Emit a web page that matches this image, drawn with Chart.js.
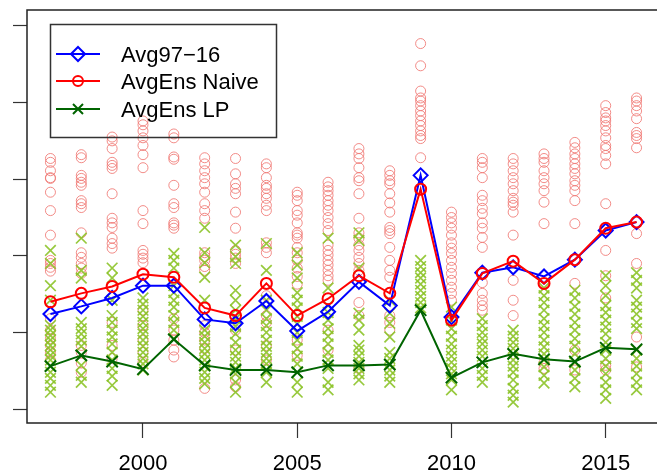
<!DOCTYPE html>
<html>
<head>
<meta charset="utf-8">
<script src="https://cdn.jsdelivr.net/npm/chart.js@4.4.1/dist/chart.umd.min.js"></script>
<style>
  html, body { margin: 0; padding: 0; background: #fff; overflow: hidden; }
  #wrap { width: 670px; height: 473px; }
</style>
</head>
<body>
<div id="wrap"><canvas id="c" width="670" height="473"></canvas></div>
<script>
const years = [1997,1998,1999,2000,2001,2002,2003,2004,2005,2006,2007,2008,2009,2010,2011,2012,2013,2014,2015,2016];
const xTicks = [2000, 2005, 2010, 2015];
const yTicks = [0, 1, 2, 3, 4, 5];

const avg9716     = [1.24,1.34,1.45,1.61,1.61,1.17,1.12,1.41,1.02,1.27,1.66,1.35,3.05,1.20,1.78,1.85,1.73,1.95,2.33,2.44];
const avgEnsNaive = [1.40,1.51,1.60,1.76,1.72,1.32,1.22,1.64,1.22,1.44,1.74,1.51,2.87,1.16,1.77,1.93,1.64,1.95,2.36,2.44];
const avgEnsLP    = [0.56,0.70,0.62,0.52,0.91,0.57,0.51,0.51,0.48,0.57,0.57,0.58,1.29,0.41,0.61,0.72,0.65,0.62,0.80,0.78];

// membres individuels, un tableau par année
const naiveMembers = [
  [3.27,3.22,3.11,3.02,3.01,2.83,2.59,2.27,1.94,1.90,1.85,1.80,1.18,1.03,0.92,0.83,0.74,0.64],
  [3.32,3.28,3.05,3.01,2.96,2.92,2.72,2.68,2.63,2.30,2.04,1.98,1.90,1.84,1.77,0.83,0.74,0.60,0.48],
  [3.55,3.50,3.40,3.22,3.18,3.14,2.81,2.49,2.43,2.37,2.23,2.16,2.10,1.13,0.83,0.66],
  [3.76,3.71,3.63,3.54,3.44,3.32,3.15,2.59,2.42,2.07,2.02,1.97,1.91,1.29,1.09,0.90,0.74,0.61],
  [3.59,3.54,3.29,3.26,2.92,2.68,2.63,2.43,2.40,2.36,1.18,1.03,0.90,0.77,0.68],
  [3.28,3.20,3.11,3.02,2.94,2.83,2.68,2.59,2.49,2.04,1.99,1.94,1.86,1.81,1.09,1.00,0.90,0.79,0.27],
  [3.27,3.07,2.94,2.88,2.81,2.57,2.36,2.07,2.02,1.97,1.90,1.03,0.77,0.38,0.29],
  [3.20,3.15,3.02,2.92,2.88,2.81,2.75,2.66,2.59,2.17,2.11,2.04,1.48,1.22,1.13,0.83,0.64],
  [2.83,2.79,2.72,2.59,2.53,2.43,2.30,2.27,2.23,2.11,2.04,1.94,1.84,1.73,1.63,0.90,0.70],
  [2.96,2.90,2.85,2.79,2.72,2.66,2.59,2.50,2.42,2.33,2.14,2.07,2.01,1.94,1.88,1.81,1.74,1.68,1.03,0.77],
  [3.40,3.33,3.27,3.15,3.02,2.98,2.81,2.49,2.30,2.23,2.14,2.07,1.98,1.90,1.81,1.39,1.22,0.53],
  [3.11,3.05,2.98,2.94,2.81,2.69,2.57,2.37,2.33,2.29,2.11,1.94,1.81,1.72,1.22,1.13,1.03],
  [4.77,4.48,4.15,4.06,4.02,3.96,3.89,3.83,3.76,3.70,3.63,3.57,3.53,3.28],
  [2.57,2.50,2.43,2.36,2.27,2.17,2.10,2.03,1.94,1.85,1.77,1.68,1.59,1.51,1.42],
  [3.27,3.22,3.15,3.02,2.79,2.72,2.62,2.55,2.43,2.36,2.24,2.11,1.65,1.51,1.42,1.35,1.29],
  [3.27,3.20,3.11,3.02,2.94,2.85,2.75,2.70,2.66,2.57,2.27,1.68,1.42,1.22],
  [3.33,3.27,3.22,3.11,3.02,2.94,2.85,2.70,2.42,0.60,0.53],
  [3.48,3.41,3.33,3.27,3.20,3.14,3.07,2.98,2.92,2.85,2.72,2.42,1.64,0.77,0.51],
  [3.96,3.87,3.80,3.76,3.70,3.63,3.54,3.44,3.40,3.31,3.20,2.68,2.07,1.74,1.45,0.57,0.51],
  [4.06,4.02,3.96,3.89,3.79,3.61,3.57,3.53,3.41,2.29,1.90,0.94,0.55]
];
const lpMembers = [
  [2.07,1.90,1.61,1.42,1.09,1.03,0.96,0.90,0.83,0.77,0.70,0.64,0.56,0.48,0.40,0.31,0.22],
  [2.23,1.81,1.71,1.13,1.05,0.98,0.90,0.82,0.70,0.57,0.44,0.35],
  [1.84,1.71,1.42,1.22,1.13,1.03,0.94,0.85,0.74,0.64,0.53,0.43,0.31],
  [1.45,1.37,1.29,1.21,1.13,1.05,0.98,0.90,0.82,0.74,0.66,0.59,0.51],
  [2.03,1.94,1.84,1.61,1.52,1.42,1.33,1.22,1.13,1.03,0.92],
  [2.37,2.04,1.91,1.72,1.42,1.03,0.95,0.87,0.79,0.72,0.64,0.56,0.48,0.40,0.33],
  [2.14,1.99,1.90,1.55,1.42,1.29,1.18,1.08,0.98,0.87,0.77,0.69,0.61,0.53,0.46,0.35,0.22],
  [2.16,1.81,1.42,1.29,1.18,1.09,1.00,0.90,0.82,0.74,0.66,0.59,0.48,0.35],
  [2.04,1.88,1.71,1.52,1.42,1.32,1.21,1.11,1.00,0.90,0.79,0.69,0.59,0.48,0.35,0.22],
  [2.23,1.58,1.35,1.26,1.16,1.05,0.95,0.85,0.74,0.64,0.53,0.35,0.25],
  [2.30,2.20,1.84,1.25,1.16,1.03,0.83,0.77,0.69,0.61,0.53,0.46,0.38],
  [1.42,1.25,1.12,0.94,0.74,0.66,0.59,0.51,0.43,0.35],
  [1.94,1.86,1.78,1.71,1.63,1.55,1.47,1.39,1.32],
  [1.33,1.16,1.05,0.95,0.85,0.77,0.69,0.61,0.53,0.46,0.38,0.25],
  [1.18,1.09,1.00,0.92,0.85,0.77,0.69,0.61,0.53,0.44,0.35],
  [1.03,0.95,0.87,0.79,0.72,0.64,0.56,0.48,0.38,0.27,0.18,0.09],
  [1.58,1.48,1.39,1.29,1.18,1.09,1.00,0.90,0.81,0.72,0.64,0.55,0.44,0.34],
  [1.55,1.45,1.34,1.24,1.13,1.03,0.92,0.82,0.72,0.61,0.51,0.40,0.29],
  [1.74,1.61,1.48,1.35,1.26,1.16,1.07,0.98,0.87,0.77,0.66,0.56,0.46,0.35,0.25,0.14],
  [1.78,1.68,1.58,1.42,1.33,1.24,1.13,1.05,0.77,0.66,0.56,0.46,0.35,0.25]
];

const FONT = "'Liberation Sans', Arial, sans-serif";
const BLUE = "#0000ff", RED = "#ff0000", DKGREEN = "#006400";
const CLOUD_RED = "rgba(240,120,115,0.85)";
const CLOUD_GREEN = "rgba(140,195,40,0.9)";

const toPts = arr => years.map((yr, i) => ({ x: yr, y: arr[i] }));
const cloud = members => {
  const pts = [];
  years.forEach((yr, i) => members[i].forEach(v => pts.push({ x: yr, y: v })));
  return pts;
};

// légende encadrée + cadre du graphe, façon R (le bord droit sort de l'image)
const boxPlugin = {
  id: "rbox",
  afterDraw(chart) {
    const { ctx, chartArea: a } = chart;
    ctx.save();
    ctx.strokeStyle = "#222";
    ctx.lineWidth = 1.5;
    ctx.beginPath();
    ctx.moveTo(a.right + 5, a.top); ctx.lineTo(a.left, a.top);
    ctx.lineTo(a.left, a.bottom); ctx.lineTo(a.right + 5, a.bottom);
    ctx.stroke();

    // légende
    ctx.strokeStyle = "#333";
    ctx.strokeRect(50.5, 24.5, 226, 113);
    const rows = [
      { label: "Avg97\u221216", color: BLUE, y: 54, mark: "diamond" },
      { label: "AvgEns Naive", color: RED, y: 81, mark: "circle" },
      { label: "AvgEns LP", color: DKGREEN, y: 109, mark: "x" }
    ];
    rows.forEach(r => {
      ctx.strokeStyle = r.color;
      ctx.lineWidth = 2;
      ctx.beginPath();
      ctx.moveTo(56, r.y); ctx.lineTo(100, r.y);
      ctx.stroke();
      ctx.beginPath();
      if (r.mark === "diamond") {
        ctx.moveTo(78 - 7, r.y); ctx.lineTo(78, r.y - 7); ctx.lineTo(78 + 7, r.y); ctx.lineTo(78, r.y + 7); ctx.closePath();
      } else if (r.mark === "circle") {
        ctx.arc(78, r.y, 5, 0, Math.PI * 2);
      } else {
        ctx.moveTo(73, r.y - 5); ctx.lineTo(83, r.y + 5);
        ctx.moveTo(83, r.y - 5); ctx.lineTo(73, r.y + 5);
      }
      ctx.stroke();
      ctx.fillStyle = "#000";
      ctx.font = "22px " + FONT;
      ctx.textBaseline = "alphabetic";
      ctx.textAlign = "left";
      ctx.fillText(r.label, 121, r.y + 8);
    });
    ctx.restore();
  }
};

new Chart(document.getElementById("c"), {
  type: "scatter",
  data: {
    datasets: [
      {
        label: "AvgEns LP", data: toPts(avgEnsLP), showLine: true, order: 1,
        borderColor: DKGREEN, borderWidth: 2, pointStyle: "crossRot", pointRadius: 8,
        pointBorderColor: DKGREEN, pointBorderWidth: 2, pointBackgroundColor: "transparent"
      },
      {
        label: "AvgEns Naive", data: toPts(avgEnsNaive), showLine: true, order: 2,
        borderColor: RED, borderWidth: 2, pointStyle: "circle", pointRadius: 5.5,
        pointBorderColor: RED, pointBorderWidth: 2, pointBackgroundColor: "transparent"
      },
      {
        label: "Avg97-16", data: toPts(avg9716), showLine: true, order: 3,
        borderColor: BLUE, borderWidth: 2, pointStyle: "rectRot", pointRadius: 7,
        pointBorderColor: BLUE, pointBorderWidth: 2, pointBackgroundColor: "transparent"
      },
      {
        label: "LP membres", data: cloud(lpMembers), order: 4,
        pointStyle: "crossRot", pointRadius: 7.5, pointBorderColor: CLOUD_GREEN,
        pointBorderWidth: 1.7, pointBackgroundColor: "transparent"
      },
      {
        label: "Naive membres", data: cloud(naiveMembers), order: 5,
        pointStyle: "circle", pointRadius: 5, pointBorderColor: CLOUD_RED,
        pointBorderWidth: 1, pointBackgroundColor: "transparent"
      }
    ]
  },
  options: {
    responsive: false,
    animation: false,
    devicePixelRatio: 1,
    layout: { padding: { top: 9, right: 2, left: 0, bottom: 0 } },
    plugins: { legend: { display: false }, tooltip: { enabled: false } },
    scales: {
      x: {
        type: "linear", min: 1996.24, max: 2016.76,
        afterBuildTicks: s => { s.ticks = xTicks.map(v => ({ value: v })); },
        afterFit: s => { s.height = 50; s.paddingLeft = 0; s.paddingRight = 0; },
        border: { display: false },
        grid: { drawOnChartArea: false, drawTicks: true, tickLength: 15, tickColor: "#333", tickWidth: 1.2 },
        ticks: { color: "#000", padding: 13, font: { family: FONT, size: 22 }, callback: v => String(v), maxRotation: 0 }
      },
      y: {
        type: "linear", min: -0.182, max: 5.208,
        afterBuildTicks: s => { s.ticks = yTicks.map(v => ({ value: v })); },
        afterFit: s => { s.width = 27; s.paddingTop = 0; s.paddingBottom = 0; },
        border: { display: false },
        grid: { drawOnChartArea: false, drawTicks: true, tickLength: 14, tickColor: "#333", tickWidth: 1.2 },
        ticks: { display: false }
      }
    }
  },
  plugins: [boxPlugin]
});
</script>
</body>
</html>
